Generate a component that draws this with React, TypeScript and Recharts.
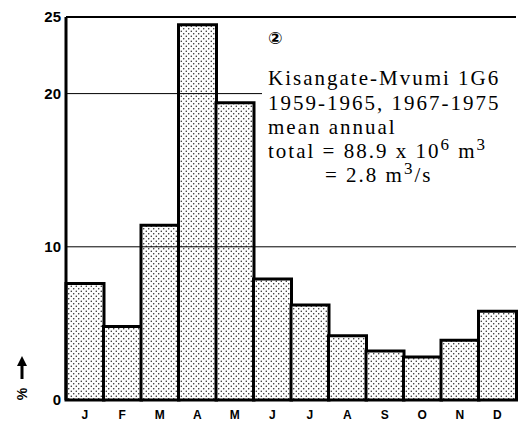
import { Bar, BarChart, Customized, ReferenceLine, XAxis, YAxis } from 'recharts';

const months = ['J', 'F', 'M', 'A', 'M', 'J', 'J', 'A', 'S', 'O', 'N', 'D'];
const runoffPercent = [7.6, 4.8, 11.4, 24.5, 19.4, 7.9, 6.2, 4.2, 3.2, 2.8, 3.9, 5.8];
const yTicks = [0, 10, 20, 25];

const chartData = months.map((m, i) => ({ key: `${m}${i}`, month: m, value: runoffPercent[i] }));

const serif = '"Liberation Serif", "Times New Roman", serif';
const sansBold = 'Liberation Sans, Arial, sans-serif';

// the 20 gridline stops where the station text begins
function ShortGridLine(props: any) {
  return <line x1={props.x1} y1={props.y1} x2={262} y2={props.y2} stroke="#000" strokeWidth={1} />;
}

function Line({ x, y, children }: { x: number; y: number; children: any }) {
  return (
    <text x={x} y={y} fontFamily={serif} fontSize={21} letterSpacing={2} fill="#000">
      {children}
    </text>
  );
}

function Annotation() {
  return (
    <g>
      <text x={268} y={44} fontFamily='"DejaVu Sans", sans-serif' fontSize={17} fontWeight="bold" fill="#000">
        ②
      </text>
      <Line x={268} y={85}>Kisangate-Mvumi 1G6</Line>
      <Line x={268} y={110}>1959-1965, 1967-1975</Line>
      <Line x={268} y={134}>mean annual</Line>
      <Line x={268} y={158}>
        total = 88.9 x 10<tspan dy={-8} fontSize={17}>6</tspan>
        <tspan dy={8}> m</tspan>
        <tspan dy={-8} fontSize={17}>3</tspan>
      </Line>
      <Line x={325} y={182}>
        = 2.8 m<tspan dy={-8} fontSize={17}>3</tspan>
        <tspan dy={8}>/s</tspan>
      </Line>
      {/* unit marker */}
      <path d="M22 356 L27 366 L17 366 Z" fill="#000" />
      <rect x={20.5} y={365} width={3} height={14} fill="#000" />
      <text
        x={22}
        y={394}
        transform="rotate(-90 22 394)"
        textAnchor="middle"
        dominantBaseline="central"
        fontFamily={sansBold}
        fontWeight="bold"
        fontSize={14}
        fill="#000"
      >
        %
      </text>
    </g>
  );
}

export default function App() {
  return (
    <div style={{ position: 'absolute', left: 0, top: 0, width: 529, height: 431, background: '#fff' }}>
      <BarChart
        width={529}
        height={431}
        data={chartData}
        margin={{ top: 17, right: 13, left: 0, bottom: 6 }}
        barCategoryGap={0}
      >
        <defs>
          <pattern id="dotFill" width="5" height="5" patternUnits="userSpaceOnUse">
            <rect width="5" height="5" fill="#fff" />
            <circle cx="1.25" cy="1.25" r="0.7" fill="#111" />
            <circle cx="3.75" cy="3.75" r="0.7" fill="#111" />
          </pattern>
        </defs>
        <XAxis
          dataKey="key"
          tickFormatter={(_v, i) => months[i]}
          tickLine={false}
          tickMargin={4}
          height={25}
          axisLine={{ stroke: '#000', strokeWidth: 2 }}
          tick={{ fill: '#000', fontSize: 12, fontWeight: 'bold', fontFamily: sansBold }}
        />
        <YAxis
          domain={[0, 25]}
          ticks={yTicks}
          width={66}
          tickLine={false}
          tickSize={4}
          tickMargin={1}
          axisLine={{ stroke: '#000', strokeWidth: 3 }}
          tick={{ fill: '#000', fontSize: 15, fontWeight: 'bold', fontFamily: sansBold }}
        />
        <YAxis
          yAxisId="right"
          orientation="right"
          domain={[0, 25]}
          width={0}
          tick={false}
          tickLine={false}
          axisLine={{ stroke: '#000', strokeWidth: 1.5 }}
        />
        <Bar dataKey="value" fill="url(#dotFill)" stroke="#000" strokeWidth={3} isAnimationActive={false} />
        <ReferenceLine y={10} stroke="#000" strokeWidth={1} />
        <ReferenceLine y={20} shape={ShortGridLine} />
        <ReferenceLine y={25} stroke="#000" strokeWidth={2} />
        <Customized component={Annotation} />
      </BarChart>
    </div>
  );
}
